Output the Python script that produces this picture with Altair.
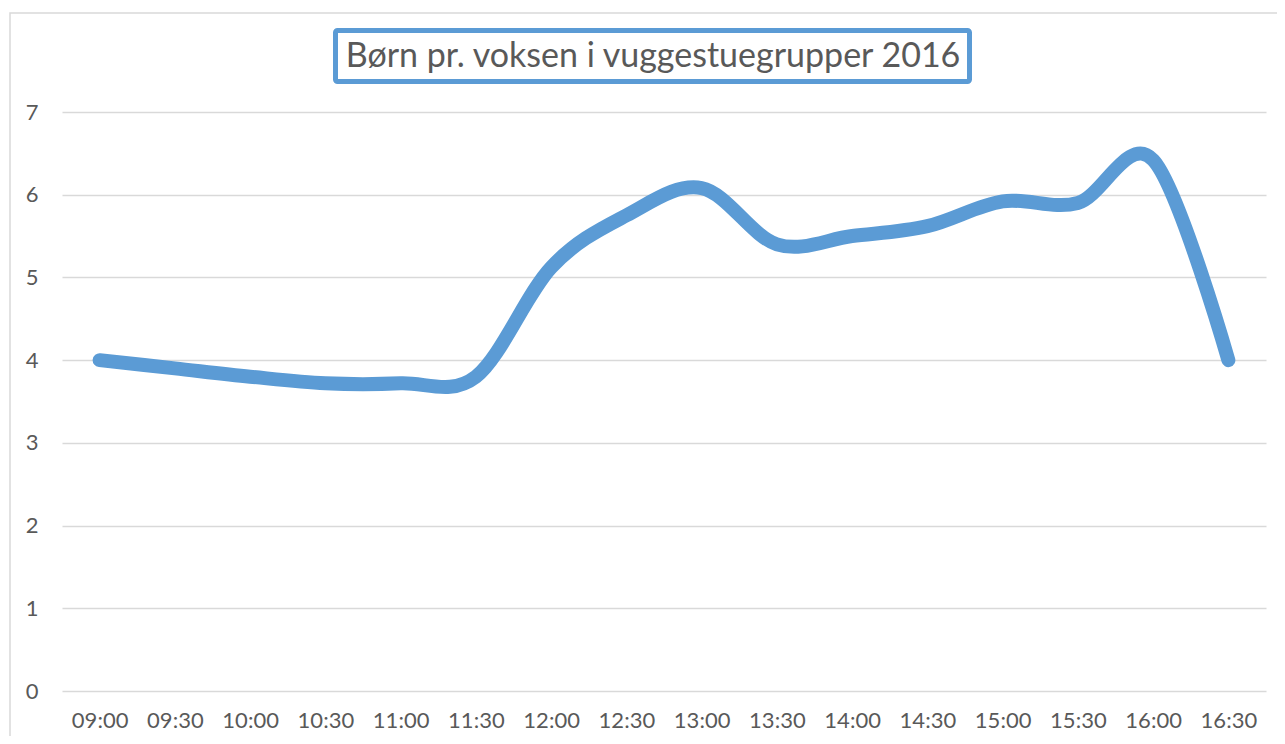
import altair as alt
import pandas as pd

times = ["09:00", "09:30", "10:00", "10:30", "11:00", "11:30", "12:00", "12:30",
         "13:00", "13:30", "14:00", "14:30", "15:00", "15:30", "16:00", "16:30"]
values = [4.0, 3.9, 3.8, 3.72, 3.72, 3.8, 5.12, 5.75,
          6.08, 5.4, 5.5, 5.62, 5.92, 5.9, 6.42, 4.0]
title_text = "Børn pr. voksen i vuggestuegrupper 2016"
y_ticks = [0, 1, 2, 3, 4, 5, 6, 7]

df = pd.DataFrame({"time": times, "value": values})
tdf = pd.DataFrame({"title": [title_text]})

W, H = 1204, 579
BLUE = "#5B9BD5"
GREY_TXT = "#595959"
GRID = "#D9D9D9"

border = alt.Chart(tdf).mark_rect(
    fillOpacity=0, stroke=GRID, strokeWidth=1.5
).encode(
    x=alt.value(-52), x2=alt.value(3000), y=alt.value(-99), y2=alt.value(3000)
)

title_box = alt.Chart(tdf).mark_rect(
    fill="white", stroke=BLUE, strokeWidth=5, cornerRadius=2
).encode(
    x=alt.value(273.5), x2=alt.value(907.5), y=alt.value(-81.5), y2=alt.value(-30.5)
)

title_txt = alt.Chart(tdf).mark_text(
    font="Lato", fontSize=34, color=GREY_TXT, align="center", baseline="middle"
).encode(
    text="title:N", x=alt.value(591), y=alt.value(-55)
)

line = alt.Chart(df).mark_line(
    interpolate="cardinal", tension=0, strokeWidth=14, strokeCap="round",
    strokeJoin="round", color=BLUE
).encode(
    x=alt.X("time:N", sort=times,
            scale=alt.Scale(type="point", padding=0.5),
            axis=alt.Axis(title=None, labelAngle=0, ticks=False, domain=False,
                          grid=False, labelFont="Lato", labelFontSize=22,
                          labelColor=GREY_TXT, labelPadding=19)),
    y=alt.Y("value:Q", scale=alt.Scale(domain=[0, 7], nice=False, zero=True),
            axis=alt.Axis(values=y_ticks, title=None, ticks=False, domain=False,
                          gridColor=GRID, gridWidth=1.5, labelFont="Lato",
                          labelFontSize=22, labelColor=GREY_TXT, labelPadding=24)),
)

chart = alt.layer(border, line, title_box, title_txt).properties(
    width=W, height=H,
    autosize=alt.AutoSizeParams(type="none"),
    padding={"left": 54, "top": 104, "right": 11, "bottom": 45},
    background="white",
).configure_view(strokeWidth=0)

chart.save("out.html", embed_options={"renderer": "svg", "actions": False})
